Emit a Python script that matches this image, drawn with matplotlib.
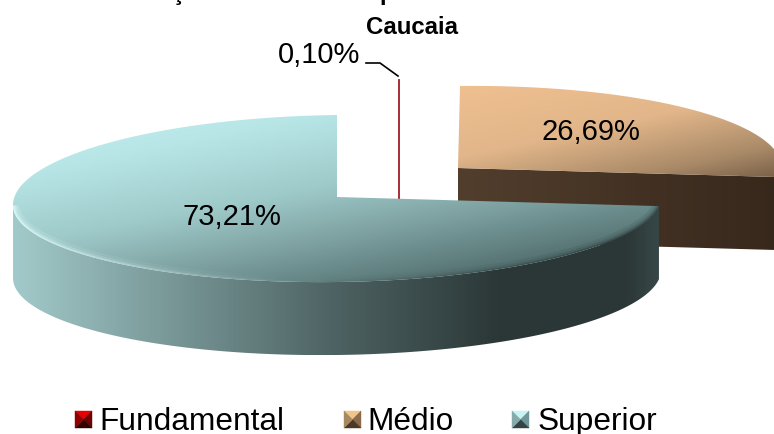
import numpy as np
import matplotlib
matplotlib.use('Agg')
import matplotlib.pyplot as plt
from matplotlib.collections import LineCollection
from matplotlib.colors import LinearSegmentedColormap
from matplotlib.patches import Polygon

categories = ['Fundamental', 'Médio', 'Superior']
shares = [0.10, 26.69, 73.21]

# where each slice sits on the canvas (exploded pie), in pixels
centers = [(399, 162), (458, 168), (337, 197)]
top_colors = [[(0, '#c02020'), (1, '#801010')],
              [(0, '#efc090'), (0.45, '#e2b68a'), (0.8, '#a98a68'), (1, '#7a6048')],
              [(0, '#c4f0f0'), (0.2, '#b8e6e6'), (0.45, '#9fcaca'), (0.6, '#85a9a9'),
               (0.76, '#668686'), (1, '#3a4e4e')]]
side_colors = [[(0, '#701010'), (1, '#500808')],
               [(0, '#523e2d'), (1, '#37281c')],
               [(0, '#a2c9c9'), (0.2, '#80a0a0'), (0.5, '#4d6262'), (0.75, '#2c3838'),
                (0.95, '#2b3636'), (1, '#364646')]]

RX, RY_BACK, RY_FRONT, TILT, DEPTH = 324, 86, 81, 4, 73

plt.rcParams['font.family'] = ['Liberation Sans', 'DejaVu Sans']
fig = plt.figure(figsize=(7.74, 4.34), dpi=100)
ax = fig.add_axes([0, 0, 1, 1])


def rim(center, deg):
    t = np.radians(deg)
    ry = np.where(np.sin(t) > 0, RY_BACK, RY_FRONT)
    x = center[0] + RX * np.cos(t)
    y = center[1] - ry * np.sin(t) + TILT * (1 - np.cos(t))
    return np.column_stack([x, y])


def fill(pts, stops, wx=1.0, wy=0.0, zorder=1):
    # polygon filled with a linear gradient, clipped with a patch
    x0, y0 = pts.min(axis=0)
    x1, y1 = pts.max(axis=0)
    gx, gy = np.meshgrid(np.linspace(0, 1, 200), np.linspace(0, 1, 200))
    grad = (wx * gx + wy * gy) / (wx + wy)
    cmap = LinearSegmentedColormap.from_list('g', stops)
    im = ax.imshow(grad, extent=(x0, x1, y1, y0), cmap=cmap, vmin=0, vmax=1,
                   aspect='auto', zorder=zorder, interpolation='bilinear')
    patch = Polygon(pts, closed=True, transform=ax.transData, fc='none', ec='none')
    ax.add_patch(patch)
    im.set_clip_path(patch)
    return patch


def bevel_rim(c, a, clip, zorder):
    # soft bevel on the front rim: light on the left, dark on the right
    front = a[np.sin(np.radians(a)) < 0]
    pts = rim(c, front)
    segs = np.stack([pts[:-1], pts[1:]], axis=1)
    frac = (front[:-1] - front.min()) / (front.max() - front.min())
    rgba = np.zeros((len(segs), 4))
    light = np.clip(1 - frac / 0.48, 0, 1)
    dark = np.clip((frac - 0.5) / 0.3, 0, 1)
    rgba[:, :3] = np.where(frac[:, None] < 0.49, [0.9, 1.0, 1.0], [0.16, 0.22, 0.22])
    for lw, k in [(9, 0.12), (5, 0.2), (2.2, 0.45)]:
        rgba[:, 3] = np.maximum(light * k * 1.6, dark * k)
        lc = LineCollection(segs, colors=rgba.copy(), linewidths=lw, zorder=zorder, capstyle='butt')
        ax.add_collection(lc)
        lc.set_clip_path(clip)


# slice angles, clockwise from twelve o'clock
edges = 90 - np.cumsum([0] + shares) * 3.6
down = np.array([0, DEPTH])

# Medio behind, then the red sliver, then Superior on top
for i, z in [(1, 2), (0, 3), (2, 4)]:
    c = np.array(centers[i], dtype=float)
    a = np.linspace(edges[i], edges[i + 1], 400)
    arc = rim(c, a)
    top = np.vstack([c, arc])
    # outer wall, only where the rim faces the viewer
    front = a[np.sin(np.radians(a)) < 0]
    if len(front) > 1:
        r = rim(c, front)
        fill(np.vstack([r, (r + down)[::-1]]), side_colors[i], zorder=z)
    # cut face on the clockwise end, visible when it faces the viewer
    if i == 1:
        e = arc[-1]
        face = np.array([c, e, e + down, c + down])
        fill(face, side_colors[i], zorder=z)
    if i == 0:
        ax.plot([c[0], c[0]], [arc[0][1], c[1] + DEPTH], color='#a01c24', lw=1.3, zorder=z)
    else:
        clip = fill(top, top_colors[i], wx=0.6, wy=0.8, zorder=z + 0.5)
        if i == 2:
            bevel_rim(c, a, clip, z + 0.6)

ax.text(591, 132, f'{shares[1]:.2f}'.replace('.', ',') + '%',
        fontsize=21, ha='center', va='center', color='black', zorder=6)
ax.text(232, 217, f'{shares[2]:.2f}'.replace('.', ',') + '%',
        fontsize=21, ha='center', va='center', color='black', zorder=6)
ax.text(360, 55, f'{shares[0]:.2f}'.replace('.', ',') + '%',
        fontsize=21, ha='right', va='center', color='black', zorder=6)
ax.plot([366, 380, 398], [63, 63, 76], color='black', lw=1.2, zorder=6)

# title is cut by the top of the picture, only the descenders are left
ax.text(178, 0, 'ç', fontsize=17, fontweight='bold', ha='center', va='baseline', zorder=6)
ax.text(387, 0, 'p', fontsize=17, fontweight='bold', ha='center', va='baseline', zorder=6)
ax.text(412, 28, 'Caucaia', fontsize=17.3, fontweight='bold', ha='center', va='center', zorder=6)

# legend with the bevelled square markers
swatch_x = [75, 344, 512]
text_x = [99, 367, 538]
bevel = [('#e80000', '#700000', '#300000', '#900000'),
         ('#f0c48c', '#8a6c4c', '#4c3826', '#a88860'),
         ('#c8f4f4', '#70989a', '#324444', '#88aaaa')]
for name, sx, tx, cols in zip(categories, swatch_x, text_x, bevel):
    s = 17
    x0, y0 = sx, 411
    mid = (x0 + s / 2, y0 + s / 2)
    corners = [(x0, y0), (x0 + s, y0), (x0 + s, y0 + s), (x0, y0 + s)]
    for k, col in enumerate(cols):
        ax.add_patch(Polygon([corners[k], corners[(k + 1) % 4], mid], closed=True,
                             fc=col, ec=col, lw=0.3, zorder=6))
    ax.text(tx, 430, name, fontsize=22.8, ha='left', va='baseline', color='black', zorder=6)

ax.set_xlim(0, 774)
ax.set_ylim(434, 0)
ax.axis('off')
fig.savefig('out.png', dpi=100)
